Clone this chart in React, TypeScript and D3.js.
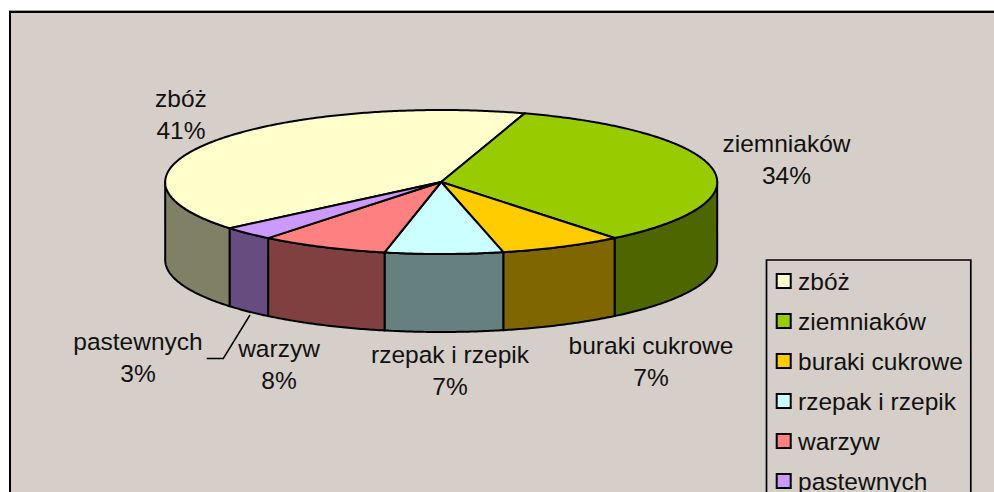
import React from "react";
import * as d3 from "d3";

const categories = ["zbóż", "ziemniaków", "buraki cukrowe", "rzepak i rzepik", "warzyw", "pastewnych"];
const shares = [41, 34.3, 7.2, 6.9, 7.5, 3.1];
const shareLabels = ["41%", "34%", "7%", "7%", "8%", "3%"];

const topColors = ["#FFFFCC", "#99CC00", "#FFCC00", "#CCFFFF", "#FF8080", "#CC99FF"];
const sideColors = ["#808066", "#4D6600", "#806600", "#668080", "#804040", "#664C80"];
const labelAnchors: [number, number][] = [[181, 107], [786.5, 152], [651, 354], [450, 363], [279, 357], [138, 350]];

const W = 994, H = 492;
const cx = 441.2, cy = 182, rx = 276, ry = 72, depth = 78;
const font = "'Liberation Sans', Arial, sans-serif";
const fontSize = 24.5;

const pie = d3.pie<number>().sort(null).startAngle((230 * Math.PI) / 180).endAngle((590 * Math.PI) / 180);
const arcs = pie(shares);

const px = d3.scaleLinear().domain([-1, 1]).range([cx - rx, cx + rx]);
const py = d3.scaleLinear().domain([-1, 1]).range([cy - ry, cy + ry]);
const pt = (t: number): [number, number] => [px(Math.sin(t)), py(-Math.cos(t))];
const sample = (a: number, b: number) => {
  const n = Math.max(2, Math.ceil(Math.abs(b - a) / 0.01));
  return d3.range(n + 1).map((i) => pt(a + ((b - a) * i) / n));
};
const line = d3.line();

function topPath(a: number, b: number) {
  return line([[cx, cy], ...sample(a, b)])! + "Z";
}
function sidePath(a: number, b: number) {
  const lo = Math.PI / 2, hi = (3 * Math.PI) / 2;
  const spans = [[a, b], [a - 2 * Math.PI, b - 2 * Math.PI]];
  return spans
    .map(([s, e]) => [Math.max(s, lo), Math.min(e, hi)])
    .filter(([s, e]) => e > s)
    .map(([s, e]) => {
      const upper = sample(s, e);
      const lower = upper.slice().reverse().map(([x, y]) => [x, y + depth] as [number, number]);
      return line([...upper, ...lower])! + "Z";
    })
    .join("");
}

export default function App() {
  return (
    <svg width={W} height={H} style={{ position: "absolute", left: 0, top: 0, display: "block" }}>
      <rect width={W} height={H} fill="#fff" />
      <rect x={9} y={10} width={W} height={H} fill="#D6CFC9" />
      <line x1={9} y1={10.5} x2={W} y2={10.5} stroke="#9a9a9a" strokeWidth={1} />
      <path d={`M10 ${H}V12H${W}`} fill="none" stroke="#000" strokeWidth={2} />

      {arcs.map((d, i) => (
        <path key={"s" + i} d={sidePath(d.startAngle, d.endAngle)} fill={sideColors[i]} stroke="#000" strokeWidth={2} strokeLinejoin="round" />
      ))}
      {arcs.map((d, i) => (
        <path key={"t" + i} d={topPath(d.startAngle, d.endAngle)} fill={topColors[i]} stroke="#000" strokeWidth={2} strokeLinejoin="round" />
      ))}

      <path d="M250 315L223.3 358.5H206.7" fill="none" stroke="#000" strokeWidth={1.5} />

      <g fontFamily={font} fontSize={fontSize} fill="#111" textAnchor="middle">
        {categories.map((c, i) => (
          <text key={c} x={labelAnchors[i][0]} y={labelAnchors[i][1]}>
            <tspan x={labelAnchors[i][0]}>{c}</tspan>
            <tspan x={labelAnchors[i][0]} dy={32}>{shareLabels[i]}</tspan>
          </text>
        ))}
      </g>

      <path d={`M970.8 ${H}V260H766.5V${H}`} fill="none" stroke="#000" strokeWidth={1.7} />
      {categories.map((c, i) => (
        <g key={"l" + c}>
          <rect x={776.7} y={274 + i * 40} width={14} height={14} fill={topColors[i]} stroke="#000" strokeWidth={2} />
          <text x={798} y={290 + i * 40} fontFamily={font} fontSize={fontSize} fill="#111">{c}</text>
        </g>
      ))}
    </svg>
  );
}
